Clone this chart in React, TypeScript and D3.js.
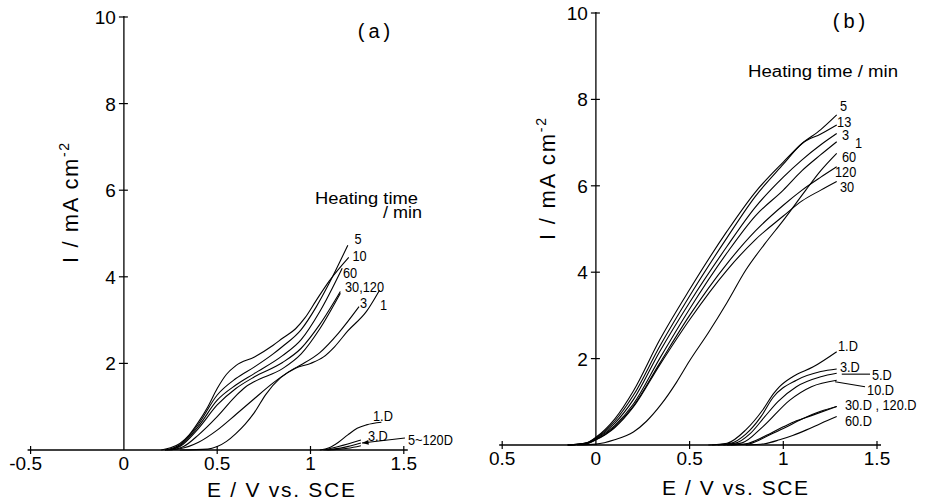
import React from "react";
import * as d3 from "d3";

// ---------- axes ----------
const xTicks = [-0.5, 0, 0.5, 1, 1.5];
const xTickLabelsA = ["-0.5", "0", "0.5", "1", "1.5"];
const xTickLabelsB = ["0.5", "0", "0.5", "1", "1.5"];
const yTicks = [2, 4, 6, 8, 10];
const yTickLabels = ["2", "4", "6", "8", "10"];

// ---------- panel (a) series: [E / V, I / mA cm-2] ----------
const a5 = [[0.22, 0], [0.3, 0.12], [0.4, 0.6], [0.5, 1.27], [0.6, 1.65], [0.7, 1.92], [0.8, 2.22], [0.85, 2.39], [0.95, 2.78], [1.03, 3.3], [1.1, 3.85], [1.2, 4.73]];
const a10 = [[0.2, 0], [0.25, 0.05], [0.3, 0.15], [0.35, 0.35], [0.4, 0.65], [0.45, 1.0], [0.5, 1.42], [0.55, 1.75], [0.6, 1.95], [0.7, 2.15], [0.8, 2.42], [0.85, 2.58], [0.92, 2.8], [0.97, 3.05], [1.03, 3.45], [1.1, 3.9], [1.205, 4.45]];
const a60 = [[0.23, 0], [0.3, 0.1], [0.4, 0.55], [0.5, 1.15], [0.6, 1.5], [0.7, 1.77], [0.85, 2.18], [0.95, 2.55], [1.05, 3.2], [1.17, 4.2]];
const a30 = [[0.24, 0], [0.3, 0.08], [0.4, 0.5], [0.5, 1.04], [0.6, 1.42], [0.7, 1.69], [0.85, 2.02], [0.95, 2.35], [1.05, 2.9], [1.16, 3.66]];
const a120 = [[0.25, 0], [0.32, 0.08], [0.4, 0.35], [0.5, 0.77], [0.6, 1.25], [0.65, 1.45], [0.7, 1.58], [0.85, 1.88], [0.95, 2.22], [1.05, 2.8], [1.16, 3.62]];
const a3 = [[0.22, 0], [0.3, 0.03], [0.4, 0.18], [0.5, 0.46], [0.6, 0.82], [0.7, 1.19], [0.8, 1.55], [0.9, 1.85], [0.95, 1.97], [1.05, 2.25], [1.15, 2.7], [1.26, 3.31]];
const a1 = [[0.3, 0], [0.45, 0.02], [0.5, 0.08], [0.55, 0.2], [0.6, 0.38], [0.65, 0.6], [0.7, 0.87], [0.76, 1.28], [0.84, 1.67], [0.92, 1.89], [1.0, 2.0], [1.07, 2.15], [1.13, 2.39], [1.2, 2.75], [1.3, 3.2], [1.37, 3.69]];
const a1D = [[1.05, 0], [1.1, 0.05], [1.15, 0.18], [1.2, 0.35], [1.25, 0.5], [1.3, 0.58], [1.38, 0.64]];
const a3D = [[1.07, 0], [1.15, 0.08], [1.27, 0.23]];
const a5to120Da = [[1.08, 0], [1.18, 0.06], [1.27, 0.16]];
const a5to120Db = [[1.09, 0], [1.2, 0.04], [1.27, 0.1]];
const seriesA = [a5, a10, a60, a30, a120, a3, a1, a1D, a3D, a5to120Da, a5to120Db];

const labelsA = [
  { text: "5", e: 1.236, i: 4.75 },
  { text: "10", e: 1.225, i: 4.36 },
  { text: "60", e: 1.174, i: 3.97 },
  { text: "30,120", e: 1.185, i: 3.65 },
  { text: "3", e: 1.265, i: 3.28 },
  { text: "1", e: 1.372, i: 3.23 },
  { text: "1.D", e: 1.335, i: 0.67 },
  { text: "3.D", e: 1.308, i: 0.21 },
  { text: "5~120D", e: 1.522, i: 0.12 },
];
// arrow from "5~120D" label to its curves
const arrowA = [[1.506, 0.277], [1.276, 0.16]];

// ---------- panel (b) series ----------
const bE = [-0.15, -0.05, 0, 0.1, 0.2, 0.34, 0.5, 0.7, 0.85, 1.0, 1.1, 1.2, 1.285];
const b5I = [0, 0.05, 0.18, 0.6, 1.25, 2.43, 3.6, 4.95, 5.85, 6.55, 6.98, 7.3, 7.64];
const b13I = [0, 0.05, 0.17, 0.55, 1.15, 2.28, 3.45, 4.8, 5.75, 6.5, 6.98, 7.2, 7.41];
const b3I = [0, 0.04, 0.15, 0.5, 1.05, 2.16, 3.3, 4.6, 5.5, 6.2, 6.6, 6.95, 7.21];
const b1I = [0, 0.04, 0.14, 0.45, 0.95, 2.0, 3.15, 4.45, 5.3, 5.9, 6.35, 6.72, 7.02];
const b120I = [0, 0.03, 0.12, 0.42, 0.9, 1.89, 3.0, 4.2, 4.95, 5.55, 5.9, 6.2, 6.44];
const b30I = [0, 0.03, 0.12, 0.4, 0.88, 1.85, 2.9, 4.05, 4.75, 5.3, 5.65, 5.9, 6.1];
const b60 = [[-0.1, 0], [0, 0.02], [0.1, 0.12], [0.2, 0.3], [0.27, 0.55], [0.35, 0.95], [0.43, 1.45], [0.5, 1.95], [0.6, 2.6], [0.7, 3.3], [0.8, 4.05], [0.9, 4.65], [1.0, 5.2], [1.12, 5.9], [1.2, 6.35], [1.285, 6.75]];
const b1D = [[0.6, 0], [0.7, 0.04], [0.8, 0.35], [0.89, 0.81], [0.95, 1.2], [0.98, 1.35], [1.05, 1.58], [1.16, 1.81], [1.285, 2.16]];
const b3D = [[0.62, 0], [0.72, 0.04], [0.8, 0.25], [0.88, 0.65], [0.945, 1.1], [1.07, 1.5], [1.2, 1.7], [1.285, 1.76]];
const b5D = [[0.65, 0], [0.75, 0.05], [0.82, 0.25], [0.9, 0.65], [0.97, 1.0], [1.07, 1.35], [1.2, 1.58], [1.285, 1.66]];
const b10D = [[0.68, 0], [0.78, 0.05], [0.89, 0.42], [1.035, 1.04], [1.15, 1.35], [1.285, 1.5]];
const b30D = [[0.7, 0], [0.8, 0.03], [0.9, 0.2], [1.0, 0.42], [1.07, 0.56], [1.15, 0.68], [1.285, 0.89]];
const b120D = [[0.72, 0], [0.82, 0.03], [0.92, 0.22], [1.0, 0.38], [1.1, 0.6], [1.2, 0.78], [1.285, 0.89]];
const b60D = [[0.8, 0], [0.9, 0.03], [0.98, 0.12], [1.05, 0.22], [1.124, 0.35], [1.2, 0.5], [1.285, 0.66]];

const zipE = (ys: number[]) => bE.map((e, k) => [e, ys[k]]);
const seriesB = [zipE(b5I), zipE(b13I), zipE(b3I), zipE(b1I), zipE(b120I), zipE(b30I), b60, b1D, b3D, b5D, b10D, b30D, b120D, b60D];

const labelsB = [
  { text: "5", e: 1.302, i: 7.74 },
  { text: "13", e: 1.287, i: 7.36 },
  { text: "3", e: 1.313, i: 7.06 },
  { text: "1", e: 1.382, i: 6.88 },
  { text: "60", e: 1.313, i: 6.55 },
  { text: "120", e: 1.276, i: 6.2 },
  { text: "30", e: 1.302, i: 5.86 },
  { text: "1.D", e: 1.292, i: 2.18 },
  { text: "3.D", e: 1.302, i: 1.69 },
  { text: "5.D", e: 1.473, i: 1.5 },
  { text: "10.D", e: 1.447, i: 1.16 },
  { text: "30.D , 120.D", e: 1.329, i: 0.81 },
  { text: "60.D", e: 1.329, i: 0.44 },
];
const leadersB = [
  [[1.312, 1.64], [1.463, 1.64]],
  [[1.276, 1.465], [1.436, 1.35]],
];

const SANS = "'Liberation Sans', Arial, sans-serif";

type PanelProps = {
  xr: [number, number];
  yr: [number, number];
  series: number[][][];
  labels: { text: string; e: number; i: number }[];
  leaders: number[][][];
  arrow?: number[][];
  xTickLabels: string[];
};

function Panel({ xr, yr, series, labels, leaders, arrow, xTickLabels }: PanelProps) {
  const x = d3.scaleLinear().domain([-0.5, 1.5]).range(xr);
  const y = d3.scaleLinear().domain([0, 10]).range(yr);
  const line = d3
    .line<number[]>()
    .x((d) => x(d[0]))
    .y((d) => y(d[1]))
    .curve(d3.curveMonotoneX);
  const straight = d3
    .line<number[]>()
    .x((d) => x(d[0]))
    .y((d) => y(d[1]));
  const x0 = x(0);
  const y0 = y(0);
  let arrowHead = null as any;
  if (arrow) {
    const [p, q] = [arrow[0], arrow[1]];
    const ax = x(q[0]), ay = y(q[1]);
    const ang = Math.atan2(y(p[1]) - ay, x(p[0]) - ax);
    const L = 7, W = 0.35;
    arrowHead = (
      <path
        d={`M${ax},${ay}L${ax + L * Math.cos(ang - W)},${ay + L * Math.sin(ang - W)}L${ax + L * Math.cos(ang + W)},${ay + L * Math.sin(ang + W)}Z`}
        fill="#000"
      />
    );
  }
  return (
    <g>
      {/* axes */}
      <line x1={x(-0.5) - 3} x2={x(1.5) + 4} y1={y0} y2={y0} stroke="#000" strokeWidth={1.3} />
      <line x1={x0} x2={x0} y1={y0} y2={y(10) - 1} stroke="#000" strokeWidth={1.3} />
      {xTicks.map((t, k) => (
        <g key={"xt" + k}>
          {t !== 0 && <line x1={x(t)} x2={x(t)} y1={y0 - 4} y2={y0 + 4} stroke="#000" strokeWidth={1.2} />}
          <text x={x(t) - (xTickLabels[k].startsWith("-") ? 5 : 0)} y={y0 + 20} textAnchor="middle" fontFamily={SANS} fontSize={19}>
            {xTickLabels[k]}
          </text>
        </g>
      ))}
      {yTicks.map((t, k) => (
        <g key={"yt" + k}>
          <line x1={x0 - 5} x2={x0 + 4} y1={y(t)} y2={y(t)} stroke="#000" strokeWidth={1.2} />
          <text x={x0 - 8} y={y(t) + 7} textAnchor="end" fontFamily={SANS} fontSize={19}>
            {yTickLabels[k]}
          </text>
        </g>
      ))}
      {/* curves */}
      {series.map((s, k) => (
        <path key={"s" + k} d={line(s) || ""} fill="none" stroke="#000" strokeWidth={1.1} />
      ))}
      {leaders.map((s, k) => (
        <path key={"l" + k} d={straight(s) || ""} fill="none" stroke="#000" strokeWidth={1.1} />
      ))}
      {arrow && <path d={straight(arrow) || ""} fill="none" stroke="#000" strokeWidth={1.1} />}
      {arrowHead}
      {labels.map((l, k) => (
        <text
          key={"lb" + k}
          transform={`translate(${x(l.e)},${y(l.i)}) scale(0.85,1)`}
          fontFamily={SANS}
          fontSize={15}
        >
          {l.text}
        </text>
      ))}
    </g>
  );
}

export default function App() {
  return (
    <svg
      width={929}
      height={503}
      viewBox="0 0 929 503"
      style={{ position: "absolute", left: 0, top: 0, background: "#fff" }}
    >
      <rect x={0} y={0} width={929} height={503} fill="#fff" />
      <Panel xr={[30.6, 403.8]} yr={[450, 17]} series={seriesA} labels={labelsA} leaders={[]} arrow={arrowA} xTickLabels={xTickLabelsA} />
      <Panel xr={[502.2, 877]} yr={[445, 13]} series={seriesB} labels={labelsB} leaders={leadersB} xTickLabels={xTickLabelsB} />

      {/* panel titles */}
      <text x={376} y={38} textAnchor="middle" fontFamily={SANS} fontSize={20} letterSpacing={4}>(a)</text>
      <text x={851} y={28} textAnchor="middle" fontFamily={SANS} fontSize={20} letterSpacing={4}>(b)</text>

      {/* legend headings */}
      <text x={315} y={204} fontFamily={SANS} fontSize={16} textLength={103} lengthAdjust="spacingAndGlyphs">Heating time</text>
      <text x={383} y={218} fontFamily={SANS} fontSize={16} textLength={39} lengthAdjust="spacingAndGlyphs">/ min</text>
      <text x={748} y={77} fontFamily={SANS} fontSize={16} textLength={150} lengthAdjust="spacingAndGlyphs">Heating time / min</text>

      {/* axis titles */}
      <text x={207} y={497} fontFamily={SANS} fontSize={21} textLength={148} lengthAdjust="spacing">E / V  vs. SCE</text>
      <text x={662} y={495} fontFamily={SANS} fontSize={21} textLength={146} lengthAdjust="spacing">E / V  vs. SCE</text>

      <text transform="translate(78,263) rotate(-90)" fontFamily={SANS} fontSize={22} textLength={120} lengthAdjust="spacing">
        I / mA cm<tspan dy={-9} fontSize={14}>-2</tspan>
      </text>
      <text transform="translate(555,240) rotate(-90)" fontFamily={SANS} fontSize={22} textLength={122} lengthAdjust="spacing">
        I / mA cm<tspan dy={-9} fontSize={14}>-2</tspan>
      </text>
    </svg>
  );
}
